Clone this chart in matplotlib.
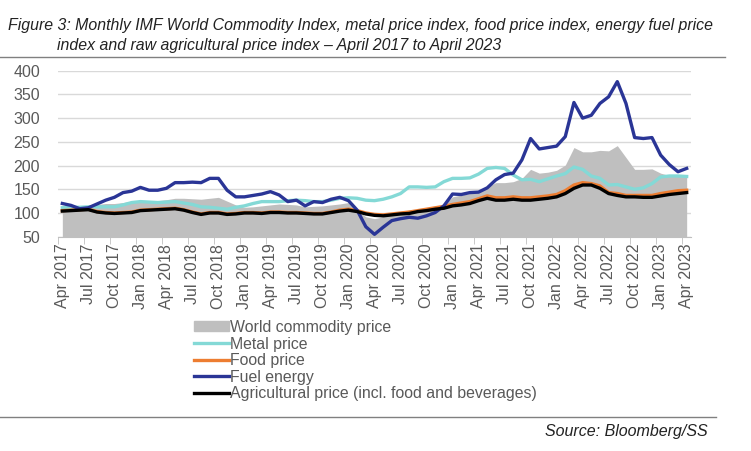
import numpy as np
import matplotlib
matplotlib.use('Agg')
import matplotlib.pyplot as plt
from matplotlib.patches import Patch
from matplotlib.lines import Line2D

plt.rcParams['font.family'] = ['Liberation Sans', 'DejaVu Sans']

#months Apr 2017 .. Apr 2023
month_names = ['Jan','Feb','Mar','Apr','May','Jun','Jul','Aug','Sep','Oct','Nov','Dec']
months = []
for k in range(73):
    m = (3 + k) % 12
    y = 2017 + (3 + k) // 12
    months.append(month_names[m] + ' ' + str(y))

#world commodity index (grey area)
world = [108,110,111,114,118,120,120,122,125,126,126,126,128,131,131,130,129,
         131,133,125,117,112,113,115,117,119,118,117,113,114,115,117,119,122,106,92,88,
         92,98,103,106,107,108,112,117,134,138,141,145,155,164,164,166,173,
         192,184,186,190,201,238,229,229,232,231,242,217,192,192,193,184,179,177,176]

#metal price index
metal = [111,112,112,113,113,113,113,117,122,124,123,122,123,124,121,118,113,
         112,110,108,112,115,120,124,124,124,126,127,126,124,124,127,131,132,131,127,126,
         129,134,141,155,155,154,155,166,173,173,174,182,194,196,194,180,170,
         171,166,172,178,183,197,192,178,173,159,160,155,150,153,162,176,178,178,177]

#food price index
food = [105,106,107,108,103,101,100,101,102,106,107,108,109,110,107,102,98,
        101,101,98,99,101,101,100,102,102,101,101,100,99,99,102,106,108,105,100,97,
        96,98,100,102,105,108,111,114,118,121,124,130,136,132,132,134,132,
        132,134,136,139,147,159,164,162,157,143,141,137,137,137,137,141,144,147,148]

#fuel energy index
fuel = [120,116,109,111,119,127,133,143,146,154,148,148,152,164,164,165,164,173,173,
        148,134,134,137,140,145,138,124,127,115,124,122,129,133,126,106,71,55,
        70,84,88,91,89,94,101,115,140,139,143,144,153,170,181,184,212,
        257,235,238,241,261,333,300,306,331,345,377,331,259,257,259,222,202,187,194]

#agricultural price index (incl. food and beverages)
agri = [104,105,106,107,102,100,99,100,101,105,106,107,108,109,106,101,97,
        100,100,97,98,100,100,99,101,101,100,100,99,98,98,101,104,106,103,98,95,
        94,96,98,99,103,105,108,110,115,117,120,126,131,127,127,129,127,
        127,129,131,134,141,152,159,159,152,141,137,134,134,133,133,136,139,141,143]

labels = ['World commodity price', 'Metal price', 'Food price', 'Fuel energy',
          'Agricultural price (incl. food and beverages)']

c_world = '#bfbfbf'
c_metal = '#84d9d6'
c_food = '#ed7d31'
c_fuel = '#2a3596'
c_agri = '#000000'
txt = '#595959'

fig = plt.figure(figsize=(7.51, 4.51), dpi=100)
ax = fig.add_axes([58/751, 1-236.7/451, (691-58)/751, (236.7-70.7)/451])

x = np.arange(len(months))
ax.fill_between(x, 0, world, color=c_world, lw=0)
ax.plot(x, metal, color=c_metal, lw=2.4)
ax.plot(x, food, color=c_food, lw=2.4)
ax.plot(x, fuel, color=c_fuel, lw=2.4)
ax.plot(x, agri, color=c_agri, lw=2.4)

ax.set_xlim(-0.5, 72.5)
ax.set_ylim(50, 400)
ax.set_yticks(range(50, 401, 50))
ax.grid(axis='y', color='#d9d9d9', lw=1)
ax.set_axisbelow(True)

#labels on every third month, tick marks between categories
ax.set_xticks(x[::3])
ax.set_xticklabels(months[::3], rotation=90, fontsize=11.5, color=txt)
ax.set_xticks(np.arange(-0.5, 73, 3), minor=True)
ax.tick_params(axis='x', which='major', length=0, pad=5)
ax.tick_params(axis='x', which='minor', length=5, color='#bfbfbf')
ax.tick_params(axis='y', length=0, labelsize=11.5, labelcolor=txt, pad=13)

for s in ['top', 'right', 'left']:
    ax.spines[s].set_visible(False)
ax.spines['bottom'].set_color('#bfbfbf')

#legend
handles = [Patch(color=c_world),
           Line2D([], [], color=c_metal, lw=2.4),
           Line2D([], [], color=c_food, lw=2.4),
           Line2D([], [], color=c_fuel, lw=2.4),
           Line2D([], [], color=c_agri, lw=2.4)]
leg = fig.legend(handles, labels, loc='upper left', bbox_to_anchor=(186/751, 1-312/451),
                 frameon=False, fontsize=11.4, labelcolor=txt, handlelength=2.2,
                 handleheight=0.6, handletextpad=0.1, labelspacing=0.1, borderpad=0)

#title and source
fig.text(8/751, 1-30/451, 'Figure 3: Monthly IMF World Commodity Index, metal price index, food price index, energy fuel price',
         fontsize=11.4, style='italic', color='#222222')
fig.text(57/751, 1-50/451, 'index and raw agricultural price index \u2013 April 2017 to April 2023',
         fontsize=11.4, style='italic', color='#222222')
fig.add_artist(Line2D([0, 725/751], [1-57/451, 1-57/451], color='#808080', lw=1))
fig.add_artist(Line2D([0, 716/751], [1-417/451, 1-417/451], color='#808080', lw=1))
fig.text(708/751, 1-436/451, 'Source: Bloomberg/SS', ha='right', fontsize=11.5,
         style='italic', color='#222222')

fig.savefig('out.png', dpi=100)
